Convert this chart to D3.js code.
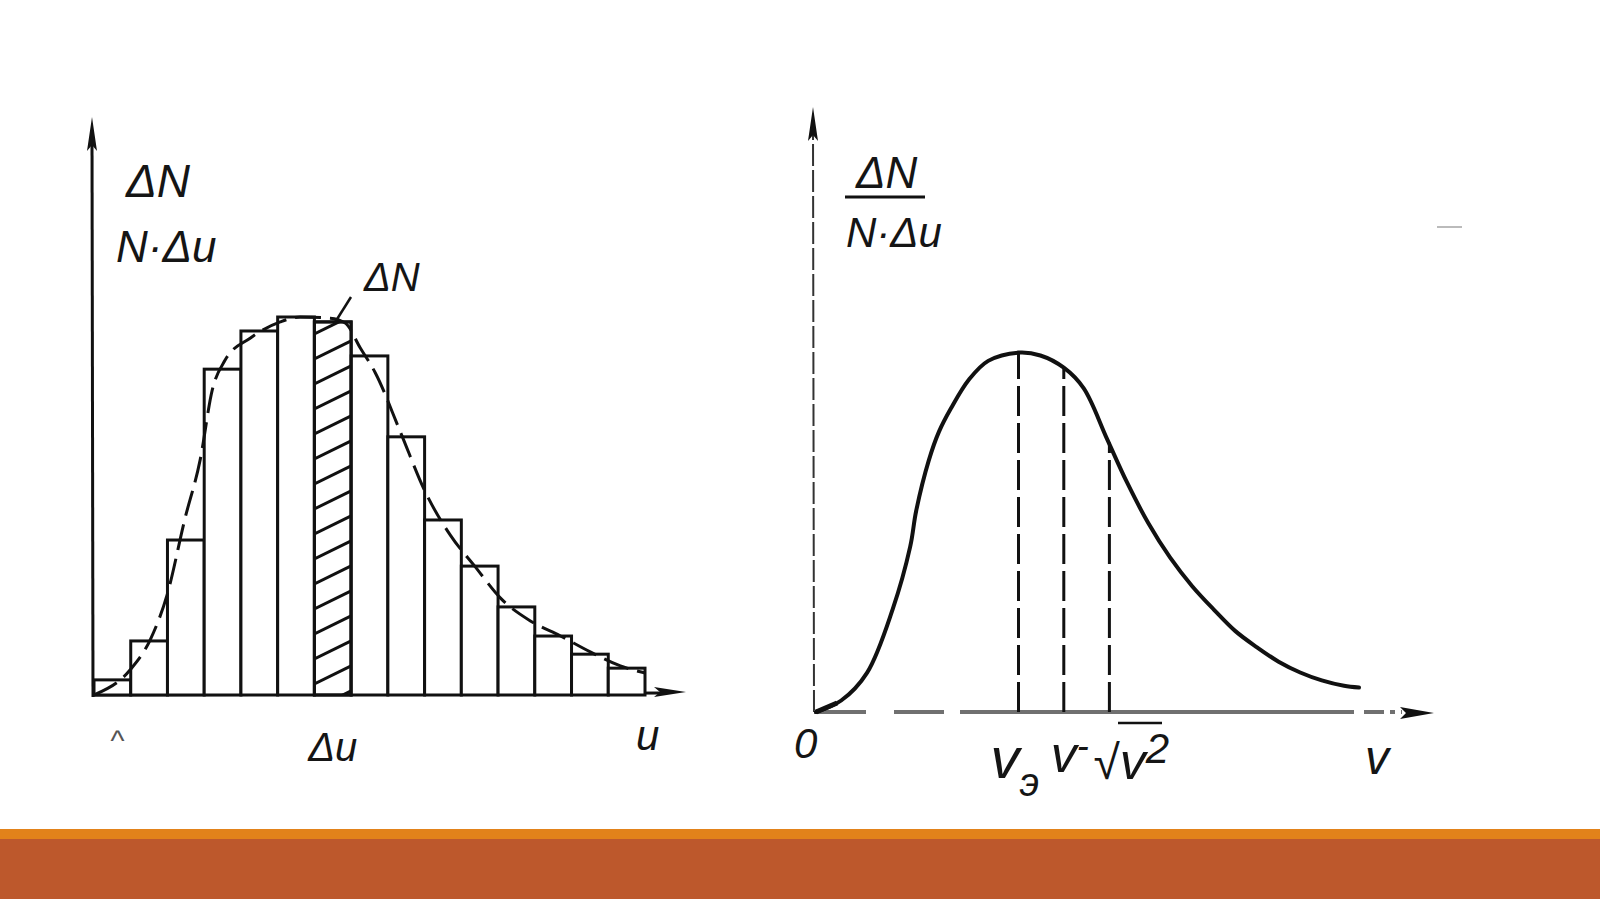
<!DOCTYPE html>
<html><head><meta charset="utf-8">
<script src="https://cdn.jsdelivr.net/npm/d3@7"></script>
<style>
html,body{margin:0;padding:0;background:#fff;}
svg{display:block;}
text{font-family:"Liberation Sans",Arial,sans-serif;font-style:italic;fill:#151515;}
</style></head>
<body>
<svg id="c" width="1600" height="899"></svg>
<script>
// ---------- DATA ----------
// Left: histogram of ΔN/(N·Δu) over equal bins Δu (15 bins), relative units (max = 100)
const barValues = [4, 14.3, 41, 86.2, 96.3, 100, 98.7, 89.7, 68.3, 46.3, 34.1, 23.3, 15.6, 10.8, 7.1];
const hatchedBin = 6;
// Left: dashed smooth envelope (u in bin units, value relative)
const curveU  = [0, 0.98, 1.53, 1.99, 2.48, 2.89, 3.22, 3.57, 4.25, 5.07, 5.61, 6.43, 6.84, 7.25, 7.66, 8.34, 9.02, 9.70, 10.38, 11.06, 11.88, 12.70, 13.51, 14.33, 15.01];
const curveDN = [0, 6.6, 14.6, 26.5, 46.8, 62.2, 80.7, 88.6, 94.4, 98.7, 100, 99.7, 98.4, 91.8, 85.2, 69.6, 53.7, 42.3, 33.9, 25.7, 19.6, 15.6, 11.4, 7.7, 5.8];
// Right: distribution curve f(v) (relative, peak = 100)
const speedV = [0, 0.42, 0.85, 1.28, 1.57, 1.67, 1.88, 2.05, 2.25, 2.55, 2.87, 3.375, 3.74, 4.13, 4.46, 4.85, 5.18, 5.54, 5.9, 6.27, 6.63, 6.99, 7.35, 7.71, 8.07, 8.43, 8.8, 9.05];
const speedF = [0, 3.2, 10.9, 28.7, 46, 56, 70, 78, 84.5, 92.5, 97.7, 100, 99.2, 95.8, 90.1, 76, 64, 52.5, 43, 35, 28.5, 22.5, 18, 14, 11, 8.8, 7.3, 6.8];
// Right: characteristic speeds (dashed verticals)
const markerV = [3.375, 4.13, 4.89];
const markerF = [100, 95.8, 75];

// ---------- SETUP ----------
const svg = d3.select("#c");
svg.append("rect").attr("width",1600).attr("height",899).attr("fill","#fff");
// bottom decorative bands
svg.append("rect").attr("x",0).attr("y",829).attr("width",1600).attr("height",12).attr("fill","#E2821A");
svg.append("rect").attr("x",0).attr("y",839).attr("width",1600).attr("height",60).attr("fill","#BD582C");

function arrowUp(g,x,y,len,hw){
  g.append("path").attr("d",`M${x},${y} L${x-hw},${y+len} L${x},${y+len-6} L${x+hw},${y+len} Z`).attr("fill","#111");
}
function arrowRight(g,x,y,len,hw){
  g.append("path").attr("d",`M${x},${y} L${x-len},${y-hw} L${x-len+6},${y} L${x-len},${y+hw} Z`).attr("fill","#111");
}

// ---------- LEFT CHART ----------
const L = svg.append("g");
const xL = d3.scaleLinear().domain([0, barValues.length]).range([94, 645]);
const yL = d3.scaleLinear().domain([0, 100]).range([695, 317]);
const yLtop = yL.invert(117);

// axes
L.append("line").attr("x1",xL(0)-1).attr("y1",yL(0)+2).attr("x2",xL(0)-2).attr("y2",yL(yLtop)+20)
  .attr("stroke","#111").attr("stroke-width",3);
arrowUp(L, xL(0)-2, yL(yLtop), 34, 5);
L.append("line").attr("x1",xL(0)-2).attr("y1",yL(0)).attr("x2",664).attr("y2",yL(0)-2)
  .attr("stroke","#111").attr("stroke-width",3);
arrowRight(L, 686, yL(0)-3, 32, 5);

// bars
L.selectAll("rect.bar").data(barValues).join("rect").attr("class","bar")
  .attr("x",(d,i)=>xL(i)).attr("y",d=>yL(d))
  .attr("width",(d,i)=>xL(i+1)-xL(i)).attr("height",d=>yL(0)-yL(d))
  .attr("fill","#fff").attr("stroke","#111").attr("stroke-width",3);

// hatch of selected bin
const hx0 = xL(hatchedBin), hx1 = xL(hatchedBin+1), hy0 = yL(barValues[hatchedBin]);
svg.append("defs").append("clipPath").attr("id","hclip").append("rect")
  .attr("x",hx0).attr("y",hy0).attr("width",hx1-hx0).attr("height",yL(0)-hy0);
const hg = L.append("g").attr("clip-path","url(#hclip)");
for (let y = hy0 + 12; y < yL(0) + 30; y += 25) {
  hg.append("line").attr("x1",hx0).attr("y1",y).attr("x2",hx1).attr("y2",y-18)
    .attr("stroke","#111").attr("stroke-width",3);
}
L.append("rect").attr("x",hx0).attr("y",hy0).attr("width",hx1-hx0).attr("height",yL(0)-hy0)
  .attr("fill","none").attr("stroke","#111").attr("stroke-width",3);

// dashed envelope
const lineL = d3.line().x(d=>xL(d[0])).y(d=>yL(d[1])).curve(d3.curveMonotoneX);
L.append("path").datum(curveU.map((u,i)=>[u,curveDN[i]]))
  .attr("d",lineL).attr("fill","none").attr("stroke","#111").attr("stroke-width",3)
  .attr("stroke-dasharray","26,9");

// annotation ΔN with leader line
L.append("line").attr("x1",351).attr("y1",297).attr("x2",334).attr("y2",324)
  .attr("stroke","#111").attr("stroke-width",2.5);
L.append("text").attr("x",364).attr("y",291).attr("font-size",40).text("ΔN");

// labels
L.append("text").attr("x",126).attr("y",197).attr("font-size",46).text("ΔN");
L.append("text").attr("x",116).attr("y",262).attr("font-size",44).text("N·Δu");
L.append("text").attr("x",(xL(hatchedBin)+xL(hatchedBin+1))/2).attr("y",761).attr("font-size",40)
  .attr("text-anchor","middle").text("Δu");
L.append("text").attr("x",636).attr("y",750).attr("font-size",42).text("u");
L.append("text").attr("x",110).attr("y",751).attr("font-size",30).style("fill","#555").text("^");

// ---------- RIGHT CHART ----------
const R = svg.append("g");
const xR = d3.scaleLinear().domain([0, 10]).range([816, 1416]);
const yR = d3.scaleLinear().domain([0, 100]).range([712, 352.6]);
const yRtop = yR.invert(107);

// y axis (thin, broken)
R.append("line").attr("x1",xR(0)-2).attr("y1",yR(0)).attr("x2",xR(0)-3).attr("y2",yR(yRtop)+20)
  .attr("stroke","#333").attr("stroke-width",2).attr("stroke-dasharray","22,4");
arrowUp(R, xR(0)-3, yR(yRtop), 34, 5);
// x axis (gray, broken)
R.append("line").attr("x1",xR(0)-2).attr("y1",yR(0)).attr("x2",1402).attr("y2",yR(0))
  .attr("stroke","#707070").attr("stroke-width",4)
  .attr("stroke-dasharray","52,28,50,16,394,10,20,6,5,6");
arrowRight(R, 1434, yR(0)+1, 34, 6);

// curve
const lineR = d3.line().x(d=>xR(d[0])).y(d=>yR(d[1])).curve(d3.curveCatmullRom.alpha(0.5));
R.append("path").datum(speedV.map((v,i)=>[v,speedF[i]]))
  .attr("d",lineR).attr("fill","none").attr("stroke","#111").attr("stroke-width",4)
  .attr("stroke-linecap","round");
// start blob at origin
R.append("path").attr("d",`M${xR(0)},${yR(0)} L${xR(0.35)},${yR(2.5)}`).attr("stroke","#111").attr("stroke-width",5);

// dashed verticals
R.selectAll("line.mk").data(markerV).join("line").attr("class","mk")
  .attr("x1",d=>xR(d)).attr("x2",d=>xR(d))
  .attr("y1",yR(0)).attr("y2",(d,i)=>yR(markerF[i]))
  .attr("stroke","#111").attr("stroke-width",3).attr("stroke-dasharray","30,7");

// y label (fraction)
R.append("text").attr("x",856).attr("y",188).attr("font-size",44).text("ΔN");
R.append("line").attr("x1",845).attr("x2",925).attr("y1",197).attr("y2",197).attr("stroke","#111").attr("stroke-width",3);
R.append("text").attr("x",846).attr("y",247).attr("font-size",42).text("N·Δu");

// x labels
R.append("text").attr("x",794).attr("y",758).attr("font-size",42).text("0");
const t1 = R.append("text").attr("x",xR(markerV[0])-28).attr("y",778).attr("font-size",58);
t1.append("tspan").text("v");
t1.append("tspan").attr("font-size",40).attr("dy",18).text("э");
const t2 = R.append("text").attr("x",xR(markerV[1])-13).attr("y",772).attr("font-size",52);
t2.append("tspan").text("v");
t2.append("tspan").attr("font-size",36).attr("dy",-14).text("-");
const t3 = R.append("text").attr("x",xR(markerV[2])-16).attr("y",779).attr("font-size",52);
t3.append("tspan").attr("font-size",48).text("√");
t3.append("tspan").text("v");
t3.append("tspan").attr("font-size",42).attr("dy",-16).text("2");
R.append("line").attr("x1",1118).attr("x2",1162).attr("y1",723).attr("y2",723).attr("stroke","#111").attr("stroke-width",2.5);
R.append("text").attr("x",1365).attr("y",774).attr("font-size",48).text("v");

// small stray mark at right
svg.append("line").attr("x1",1437).attr("x2",1462).attr("y1",227).attr("y2",227).attr("stroke","#bbb").attr("stroke-width",2);
</script>
</body></html>
